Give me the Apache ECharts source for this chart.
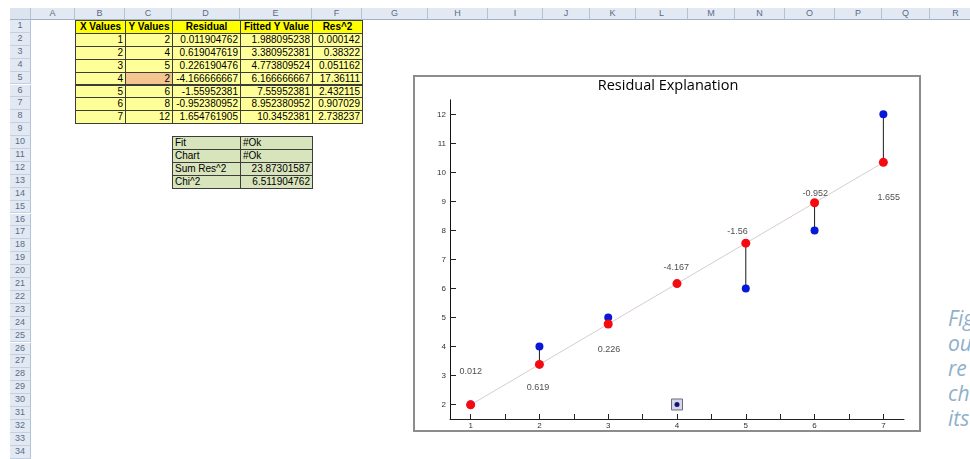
<!DOCTYPE html>
<html><head><meta charset="utf-8">
<script src="https://cdn.jsdelivr.net/npm/echarts@6/dist/echarts.min.js"></script>
<style>
html,body{margin:0;padding:0;width:970px;height:459px;overflow:hidden;background:#fff;font-family:"Liberation Sans",Arial,sans-serif;}
#sheet{position:absolute;left:0;top:0;width:970px;height:459px;}
.cell{position:absolute;box-sizing:border-box;font-size:10px;white-space:nowrap;overflow:hidden;padding:0 2px;color:#000;}
.hdr{position:absolute;box-sizing:border-box;font-size:9px;color:#5a6b86;text-align:center;background:#e2e9f3;border-right:1px solid #b3c3d7;border-bottom:1px solid #9fb2c9;}
#chartbox{position:absolute;left:413px;top:75px;width:508px;height:357px;box-sizing:border-box;border:2px solid #8c8c8c;background:#fff;}
#chart{position:absolute;left:0;top:0;width:970px;height:459px;}
.side{position:absolute;left:948px;top:306px;font-style:italic;font-size:21px;line-height:25px;color:#8fb0c9;font-family:"Open Sans",sans-serif;}
</style></head>
<body>
<div id="sheet"></div>
<div id="chartbox"></div>
<div class="side">Fig<br>ou<br>re<br>ch<br>its</div>
<div id="chart"></div>
<script>
// ---- data ----
const colLetters = ['A','B','C','D','E','F','G','H','I','J','K','L','M','N','O','P','Q','R'];
const tableHeaders = ['X Values','Y Values','Residual','Fitted Y Value','Res^2'];
const xValues = [1, 2, 3, 4, 5, 6, 7];
const yValues = [2, 4, 5, 2, 6, 8, 12];
const residuals = [0.011904762, 0.619047619, 0.226190476, -4.166666667, -1.55952381, -0.952380952, 1.654761905];
const fittedValues = [1.988095238, 3.380952381, 4.773809524, 6.166666667, 7.55952381, 8.952380952, 10.3452381];
const resSquared = [0.000142, 0.38322, 0.051162, 17.36111, 2.432115, 0.907029, 2.738237];
const summaryLabels = ['Fit', 'Chart', 'Sum Res^2', 'Chi^2'];
const summaryValues = ['#Ok', '#Ok', 23.87301587, 6.511904762];
const selectedIndex = 3;            // point being dragged: drawn selected, no connector
// residual label anchor positions (data space)
const labelX = [1.0, 1.98, 3.01, 3.99, 4.88, 6.01, 7.08];
const labelY = [3.13, 2.57, 3.88, 6.71, 7.97, 9.27, 9.15];
const xTickValues = [1, 1.5, 2, 2.5, 3, 3.5, 4, 4.5, 5, 5.5, 6, 6.5, 7];
const xLabelValues = [1, 2, 3, 4, 5, 6, 7];
const yTickValues = [2, 3, 4, 5, 6, 7, 8, 9, 10, 11, 12];

// ---- spreadsheet backdrop ----
const colEdges = [31,75,125,172,240,312,362,428,488,543,590,636,688,735,785,835,882,930,982];
const hdrTop = 8, rowTop0 = 20, rowH = 12.9, nRows = 34;
const sheet = document.getElementById('sheet');
function rowTop(r){ return rowTop0 + (r-1)*rowH; }
function add(cls, x, y, w, h, text, css){
  const d = document.createElement('div');
  d.className = cls;
  d.style.left = x+'px'; d.style.top = y+'px'; d.style.width = w+'px'; d.style.height = h+'px';
  d.style.lineHeight = (h-1)+'px';
  if (css) Object.assign(d.style, css);
  d.textContent = text;
  sheet.appendChild(d);
  return d;
}
add('hdr', 10, hdrTop, 21, rowTop0-hdrTop, '', {background:'#dbe4ef'});
colLetters.forEach((c,i)=>{ add('hdr', colEdges[i], hdrTop, colEdges[i+1]-colEdges[i], rowTop0-hdrTop, c); });
for (let r=1; r<=nRows; r++){ add('hdr', 10, rowTop(r), 21, rowH, String(r), {borderBottom:'1px solid #c3d0e1'}); }

function colX(ci){ return colEdges[ci]; }
function colW(ci){ return colEdges[ci+1]-colEdges[ci]+1; }
const bd = '1px solid #3c3c3c';
tableHeaders.forEach((t,i)=>{
  add('cell', colX(1+i), rowTop(1), colW(1+i), rowH+1, t,
      {background:'#ffff00', border:bd, fontWeight:'bold', textAlign:'center'});
});
const cols = [xValues, yValues, residuals, fittedValues, resSquared];
for (let k=0; k<xValues.length; k++){
  cols.forEach((arr,i)=>{
    const bg = (i===1 && k===selectedIndex) ? '#f4c58e' : '#ffff99';
    add('cell', colX(1+i), rowTop(2+k), colW(1+i), rowH+1, String(arr[k]),
        {background:bg, border:bd, textAlign:'right'});
  });
}
summaryLabels.forEach((t,k)=>{
  add('cell', colX(3), rowTop(10+k), colW(3), rowH+1, t, {background:'#d8e4bc', border:bd, textAlign:'left'});
  const v = summaryValues[k];
  add('cell', colX(4), rowTop(10+k), colW(4), rowH+1, String(v),
      {background:'#d8e4bc', border:bd, textAlign: typeof v === 'number' ? 'right' : 'left'});
});

// ---- chart ----
const chart = echarts.init(document.getElementById('chart'), null, {renderer:'canvas'});
const fmt = v => String(Number(v.toFixed(3)));
const option = {
  animation: false,
  backgroundColor: 'transparent',
  graphic: [{
    type: 'text', x: 668, y: 86, silent: true,
    style: { text: 'Residual Explanation', align: 'center', verticalAlign: 'middle',
             font: '14.5px "Open Sans", sans-serif', fill: '#000' }
  }],
  grid: { left: 450, top: 99.85, width: 454, height: 319.15, containLabel: false },
  xAxis: {
    type: 'value', min: 0.7, max: 7.3,
    axisLine: { lineStyle: { color: '#222', width: 1 } },
    axisTick: { show: true, inside: true, length: 5, customValues: xTickValues, lineStyle: { color: '#222' } },
    axisLabel: { customValues: xLabelValues, fontSize: 8, color: '#333', margin: 3, fontFamily: 'Liberation Sans' },
    splitLine: { show: false }
  },
  yAxis: {
    type: 'value', min: 1.5, max: 12.5,
    axisLine: { show: true, lineStyle: { color: '#111', width: 1 } },
    axisTick: { show: true, inside: true, length: 6, customValues: yTickValues, lineStyle: { color: '#222' } },
    axisLabel: { customValues: yTickValues, fontSize: 8, color: '#333', margin: 4, fontFamily: 'Liberation Sans' },
    splitLine: { show: false }
  },
  series: [
    {
      type: 'line', silent: true, symbol: 'none', z: 1,
      data: xValues.map((x,i)=>[x, fittedValues[i]]),
      lineStyle: { color: '#d8cccc', width: 1 }
    },
    {
      type: 'custom', silent: true, z: 2,
      data: xValues.map((x,i)=>[x, yValues[i], fittedValues[i]]).filter((d,i)=>i!==selectedIndex),
      encode: { x: 0, y: [1, 2] },
      renderItem: (params, api) => {
        const p1 = api.coord([api.value(0), api.value(1)]);
        const p2 = api.coord([api.value(0), api.value(2)]);
        return { type: 'line', shape: { x1: p1[0], y1: p1[1], x2: p2[0], y2: p2[1] },
                 style: { stroke: '#1a1a1a', lineWidth: 1 } };
      }
    },
    {
      type: 'scatter', silent: true, z: 3, symbol: 'rect', symbolSize: 11,
      data: [[xValues[selectedIndex], yValues[selectedIndex]]],
      itemStyle: { color: '#d6d6ea', borderColor: '#6c6c80', borderWidth: 1, opacity: 1 }
    },
    {
      type: 'scatter', silent: true, z: 4, symbolSize: 8,
      data: xValues.map((x,i)=> i===selectedIndex
        ? { value: [x, yValues[i]], symbolSize: 5, itemStyle: { color: '#141470', opacity: 1 } }
        : [x, yValues[i]]),
      itemStyle: { color: '#0818d8', opacity: 1 }
    },
    {
      type: 'scatter', silent: true, z: 5, symbolSize: 9,
      data: xValues.map((x,i)=>[x, fittedValues[i]]),
      itemStyle: { color: '#f50a10', opacity: 1 }
    },
    {
      type: 'scatter', silent: true, z: 6, symbolSize: 0,
      data: residuals.map((r,i)=>({ value: [labelX[i], labelY[i]], name: fmt(r) })),
      label: { show: true, position: 'inside', formatter: '{b}', fontSize: 9, color: '#222',
               fontFamily: 'Liberation Sans' }
    }
  ]
};
chart.setOption(option);
</script>
</body></html>
